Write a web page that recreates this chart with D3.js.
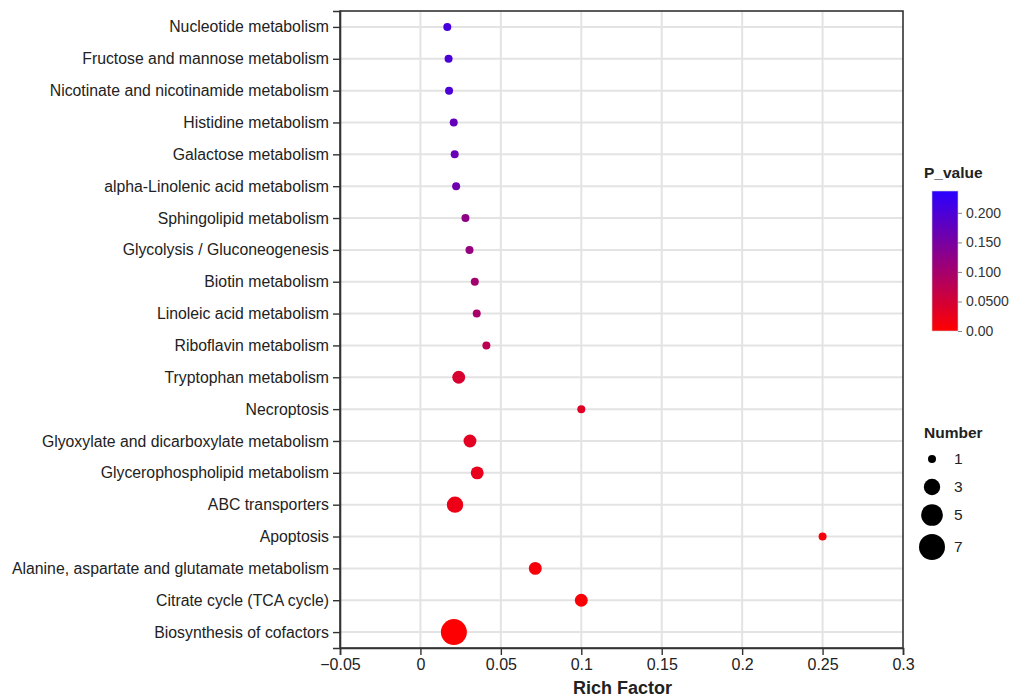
<!DOCTYPE html>
<html>
<head>
<meta charset="utf-8">
<script src="https://cdn.jsdelivr.net/npm/d3@7"></script>
<style>
  html, body { margin: 0; padding: 0; background: #fff; }
  svg { display: block; font-family: "Liberation Sans", Arial, sans-serif; }
</style>
</head>
<body>
<svg id="chart" width="1012" height="699"></svg>
<script>
// ---- data ----
const pathways = [
  "Nucleotide metabolism",
  "Fructose and mannose metabolism",
  "Nicotinate and nicotinamide metabolism",
  "Histidine metabolism",
  "Galactose metabolism",
  "alpha-Linolenic acid metabolism",
  "Sphingolipid metabolism",
  "Glycolysis / Gluconeogenesis",
  "Biotin metabolism",
  "Linoleic acid metabolism",
  "Riboflavin metabolism",
  "Tryptophan metabolism",
  "Necroptosis",
  "Glyoxylate and dicarboxylate metabolism",
  "Glycerophospholipid metabolism",
  "ABC transporters",
  "Apoptosis",
  "Alanine, aspartate and glutamate metabolism",
  "Citrate cycle (TCA cycle)",
  "Biosynthesis of cofactors"
];
const richFactor = [0.0167, 0.0175, 0.0178, 0.0207, 0.0213, 0.0222, 0.0280, 0.0305, 0.0338, 0.0350, 0.0410,
                    0.0238, 0.1000, 0.0308, 0.0353, 0.0215, 0.2500, 0.0714, 0.1000, 0.0208];
const geneNumber = [1, 1, 1, 1, 1, 1, 1, 1, 1, 1, 1, 2, 1, 2, 2, 3, 1, 2, 2, 7];
const pValue = [0.205, 0.200, 0.198, 0.172, 0.168, 0.163, 0.125, 0.118, 0.102, 0.097, 0.075,
                0.043, 0.035, 0.030, 0.026, 0.020, 0.010, 0.009, 0.006, 0.002];
const xTicks = [-0.05, 0, 0.05, 0.1, 0.15, 0.2, 0.25, 0.3];
const xTickLabels = ["\u22120.05", "0", "0.05", "0.1", "0.15", "0.2", "0.25", "0.3"];
const pTicks = [0, 0.05, 0.1, 0.15, 0.2];
const pTickLabels = ["0.00", "0.0500", "0.100", "0.150", "0.200"];
const pMax = 0.237;
const sizeLegend = [1, 3, 5, 7];

// ---- layout ----
const svg = d3.select("#chart");
const L = 340, R = 903, T = 11, B = 648;

const x = d3.scaleLinear().domain([-0.05, 0.3]).range([L, R]);
const y = d3.scalePoint().domain(pathways).range([T, B]).padding(0.5);
const r = d3.scaleRadial().domain([1, 7]).range([4, 13]);
const color = d3.scaleLinear().domain([0, pMax]).range(["#ff0000", "#2a00ff"]).interpolate(d3.interpolateRgb);

// grid
const grid = svg.append("g");
grid.selectAll("line.vx").data(xTicks.slice(1, -1)).join("line")
  .attr("x1", d => x(d)).attr("x2", d => x(d)).attr("y1", T).attr("y2", B)
  .attr("stroke", "#e3e3e3").attr("stroke-width", 2);
grid.selectAll("line.hy").data(pathways).join("line")
  .attr("x1", L).attr("x2", R).attr("y1", d => y(d)).attr("y2", d => y(d))
  .attr("stroke", "#e3e3e3").attr("stroke-width", 2);

// points
const data = pathways.map((p, i) => ({ p, rf: richFactor[i], n: geneNumber[i], pv: pValue[i] }));
svg.append("g").selectAll("circle").data(data).join("circle")
  .attr("cx", d => x(d.rf)).attr("cy", d => y(d.p)).attr("r", d => r(d.n))
  .attr("fill", d => color(d.pv));

// frame
svg.append("rect").attr("x", L).attr("y", T).attr("width", R - L).attr("height", B - T)
  .attr("fill", "none").attr("stroke", "#333").attr("stroke-width", 1.6);

// axes
const xAxis = svg.append("g").attr("transform", `translate(0,${B})`)
  .call(d3.axisBottom(x).tickValues(xTicks).tickFormat((d, i) => xTickLabels[i]).tickSize(7).tickPadding(4));
const yAxis = svg.append("g").attr("transform", `translate(${L},0)`)
  .call(d3.axisLeft(y).tickSize(7).tickPadding(4));
[xAxis, yAxis].forEach(a => {
  a.select(".domain").attr("stroke", "#333").attr("stroke-width", 1.6);
  a.selectAll(".tick line").attr("stroke", "#333").attr("stroke-width", 1.4);
  a.selectAll("text").attr("fill", "#222").style("font-family", "'Liberation Sans', Arial, sans-serif");
});
xAxis.selectAll("text").style("font-size", "16px");
yAxis.selectAll("text").style("font-size", "15.8px");

svg.append("text").attr("x", (L + R) / 2 + 1).attr("y", 694).attr("text-anchor", "middle")
  .style("font-size", "18px").style("font-weight", "bold").attr("fill", "#222").text("Rich Factor");

// colour legend
const cbX = 932, cbW = 26, cbTop = 191, cbBot = 331;
const defs = svg.append("defs");
const grad = defs.append("linearGradient").attr("id", "pgrad").attr("x1", 0).attr("y1", 1).attr("x2", 0).attr("y2", 0);
grad.selectAll("stop").data(d3.range(0, 1.001, 0.1)).join("stop")
  .attr("offset", d => d).attr("stop-color", d => color(d * pMax));
svg.append("text").attr("x", 924).attr("y", 178).style("font-size", "15.5px").style("font-weight", "bold")
  .attr("fill", "#222").text("P_value");
svg.append("rect").attr("x", cbX).attr("y", cbTop).attr("width", cbW).attr("height", cbBot - cbTop)
  .attr("fill", "url(#pgrad)").attr("stroke", "#ccc").attr("stroke-width", 0.6);
const pScale = d3.scaleLinear().domain([0, pMax]).range([cbBot, cbTop]);
const cbAxis = svg.append("g").attr("transform", `translate(${cbX + cbW},0)`)
  .call(d3.axisRight(pScale).tickValues(pTicks).tickFormat((d, i) => pTickLabels[i]).tickSize(4).tickPadding(4));
cbAxis.select(".domain").remove();
cbAxis.selectAll(".tick line").attr("stroke", "#888");
cbAxis.selectAll("text").attr("fill", "#333").style("font-size", "14px")
  .style("font-family", "'Liberation Sans', Arial, sans-serif");

// size legend
svg.append("text").attr("x", 924).attr("y", 438).style("font-size", "15.5px").style("font-weight", "bold")
  .attr("fill", "#222").text("Number");
const sizeY2 = [459, 487, 515, 547];
const sl = svg.append("g").selectAll("g").data(sizeLegend).join("g")
  .attr("transform", (d, i) => `translate(932,${sizeY2[i]})`);
sl.append("circle").attr("r", d => r(d)).attr("fill", "#000");
sl.append("text").attr("x", 22).attr("dy", "0.35em").style("font-size", "15.5px").attr("fill", "#222").text(d => d);
</script>
</body>
</html>
